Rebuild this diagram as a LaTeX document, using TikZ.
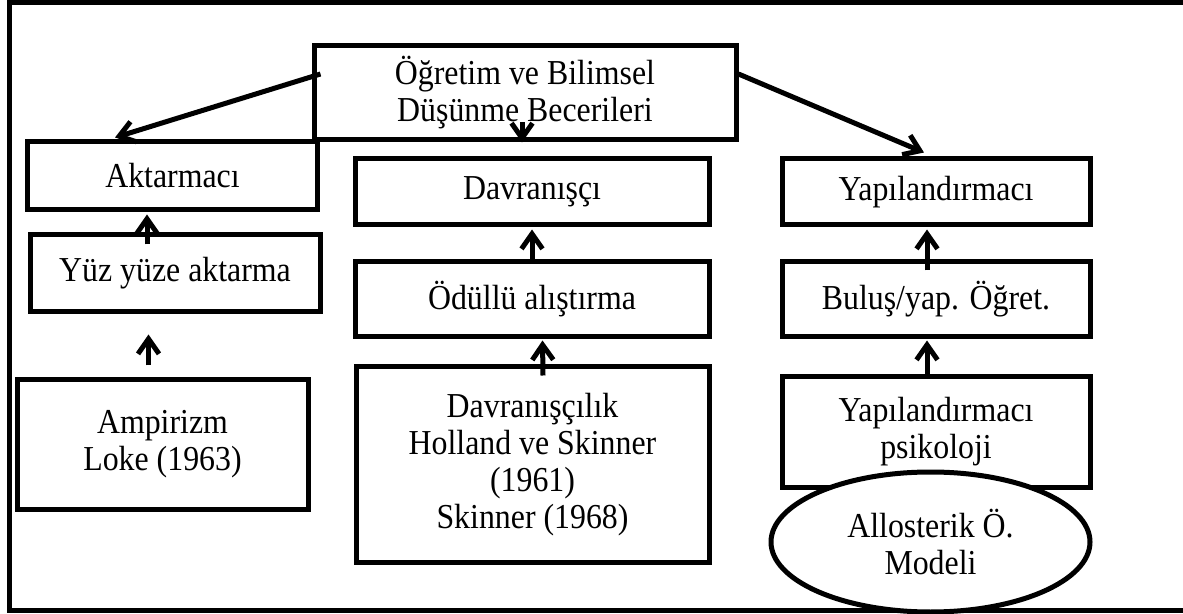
\documentclass[tikz,border=0pt]{standalone}
\usepackage{fontspec}
\setmainfont{Liberation Serif}[FakeStretch=0.91]
\usetikzlibrary{arrows.meta,shapes.geometric}
\begin{document}
\begin{tikzpicture}[x=0.5pt,y=-0.5pt,line width=2.5pt,
  every node/.style={font=\fontsize{17.5}{18.5}\selectfont,align=center,inner sep=1pt},
  box/.style={draw,rectangle},
  oval/.style={draw,ellipse,fill=white},
  arr/.style={-{Straight Barb[length=7.5pt,width=10.5pt]}}]
\useasboundingbox (0,0) rectangle (1183,614);
\draw (1183,2.5) -- (9.5,2.5) -- (9.5,610.5) -- (1183,610.5);
% top
\node[box,minimum width=211pt,minimum height=47pt] (top) at (525,93) {Öğretim ve Bilimsel\\Düşünme Becerileri};
% left column
\node[box,minimum width=145pt,minimum height=34pt] (akt) at (172.5,176) {Aktarmacı};
\node[box,minimum width=145pt,minimum height=38.5pt] (yuz) at (175,273.5) {Yüz yüze aktarma};
\node[box,minimum width=145.5pt,minimum height=64.5pt] (amp) at (162.5,444.5) {Ampirizm\\Loke (1963)};
% middle column
\node[box,minimum width=177pt,minimum height=33pt] (dav) at (532,192) {Davranışçı};
\node[box,minimum width=177pt,minimum height=37.5pt] (odl) at (532,299.5) {Ödüllü alıştırma};
\node[box,minimum width=176.5pt,minimum height=97.5pt] (dvl) at (532.5,464.5) {Davranışçılık\\Holland ve Skinner\\(1961)\\Skinner (1968)};
% right column
\node[box,minimum width=154pt,minimum height=33pt] (yap) at (936,192) {Yapılandırmacı};
\node[box,minimum width=154pt,minimum height=37.5pt] (bul) at (936,299.5) {Buluş/yap. Öğret.};
\node[box,minimum width=154pt,minimum height=55pt] (psi) at (936,432) {Yapılandırmacı\\psikoloji};
\node[oval,minimum width=159.5pt,minimum height=70pt,inner sep=0pt] (ell) at (930.5,542) {Allosterik Ö.\\Modeli};
% arrows
\draw[arr] ([xshift=4.5pt,yshift=9.5pt]top.west) -- ([xshift=-28.75pt,yshift=1pt]akt.north);
\draw[arr] ([xshift=-1.5pt,yshift=10pt]top.south) -- ([xshift=-1.5pt]top.south);
\draw[arr] ([yshift=9.5pt]top.east) -- ([xshift=-6pt,yshift=2pt]yap.north);
\draw[arr] ([xshift=-14pt,yshift=-6pt]yuz.north) -- ([xshift=-12.75pt,yshift=-1pt]akt.south);
\draw[arr] ([xshift=-7pt,yshift=6pt]amp.north) -- ([xshift=-7pt,yshift=21.5pt]amp.north);
\draw[arr] (odl.north) -- ([yshift=-1pt]dav.south);
\draw[arr] ([xshift=5.25pt,yshift=-5.5pt]dvl.north) -- ([xshift=5.25pt,yshift=-0.5pt]odl.south);
\draw[arr] ([xshift=-4.5pt,yshift=-5.5pt]bul.north) -- ([xshift=-4.5pt,yshift=-1pt]yap.south);
\draw[arr] ([xshift=-4.5pt]psi.north) -- ([xshift=-4.5pt,yshift=-0.5pt]bul.south);
\end{tikzpicture}
\end{document}
